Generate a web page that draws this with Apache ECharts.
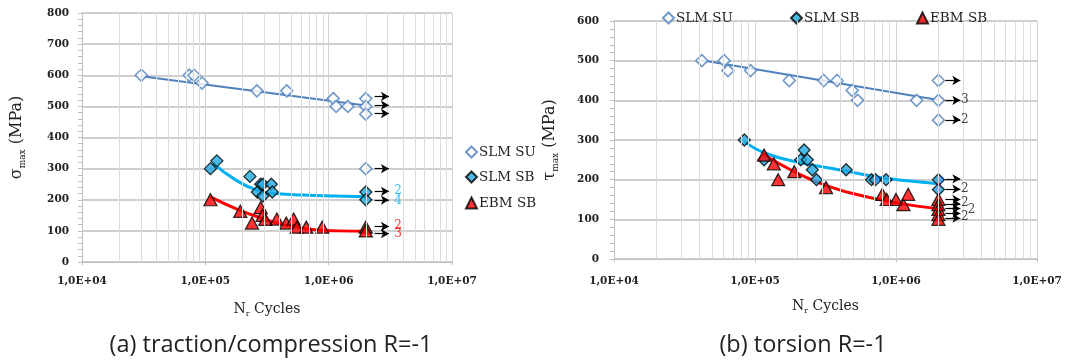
<!DOCTYPE html>
<html>
<head>
<meta charset="utf-8">
<script src="https://cdn.jsdelivr.net/npm/echarts@6/dist/echarts.min.js"></script>
<style>
html,body{margin:0;padding:0;background:#fff;}
#c{width:1068px;height:363px;}
</style>
</head>
<body>
<div id="c"></div>
<script>
// ---------- DATA ----------
// (a) traction/compression R=-1
const tcSuN = [3.03e4, 7.4e4, 8.1e4, 9.4e4, 2.62e5, 4.57e5, 1.09e6, 1.15e6, 1.43e6, 2e6, 2e6, 2e6, 2e6];
const tcSuS = [600, 600, 600, 575, 550, 550, 525, 500, 500, 525, 500, 475, 300];
const tcSuFitN = [3.03e4, 2e6];
const tcSuFitS = [597, 503];

const tcSbN = [1.10e5, 1.24e5, 2.30e5, 2.64e5, 2.81e5, 2.93e5, 2.93e5, 3.43e5, 3.49e5, 2e6, 2e6];
const tcSbS = [300, 325, 275, 225, 250, 250, 212, 250, 225, 225, 200];
const tcSbFitN = [1.15e5, 1.77e5, 2.59e5, 3.33e5, 6.27e5, 1.18e6, 2e6];
const tcSbFitS = [318, 263, 231, 222, 215, 212, 210];

const tcEbmN = [1.10e5, 1.92e5, 2.39e5, 2.81e5, 2.91e5, 3.06e5, 3.80e5, 4.53e5, 5.20e5, 5.52e5, 6.58e5, 8.87e5, 2e6, 2e6];
const tcEbmS = [200, 163, 125, 175, 150, 137, 138, 125, 138, 112, 112, 112, 112, 100];
const tcEbmFitN = [1.1e5, 1.8e5, 3.0e5, 4.5e5, 7.0e5, 1.2e6, 2e6];
const tcEbmFitS = [209, 170, 138, 118, 105, 100, 99];

const tcArrowFrom = 2.36e6, tcArrowTo = 3.08e6;
const tcArrowS = [532, 504, 477, 300, 227, 199, 114, 91];
const tcNoteN = [3.66e6, 3.66e6, 3.66e6, 3.66e6];
const tcNoteS = [230, 197, 115, 91];
const tcNoteText = ['2', '4', '2', '3'];

// (b) torsion R=-1
const toSuN = [4.2e4, 6.04e4, 6.43e4, 9.3e4, 1.75e5, 3.07e5, 3.82e5, 4.89e5, 5.34e5, 1.40e6, 2e6, 2e6, 2e6];
const toSuS = [500, 500, 475, 475, 450, 450, 450, 425, 400, 400, 450, 400, 350];
const toSuFitN = [4.2e4, 2e6];
const toSuFitS = [501, 401];

const toSbN = [8.4e4, 1.16e5, 2.11e5, 2.23e5, 2.35e5, 2.55e5, 2.73e5, 4.43e5, 6.7e5, 7.15e5, 8.5e5, 2e6, 2e6];
const toSbS = [300, 250, 250, 275, 250, 225, 200, 225, 200, 200, 200, 200, 175];
const toSbFitN = [8.4e4, 1.2e5, 2.1e5, 4.4e5, 7.0e5, 1.2e6, 2e6];
const toSbFitS = [296, 266, 243, 222, 208, 197, 190];

const toEbmN = [1.16e5, 1.36e5, 1.46e5, 1.9e5, 3.19e5, 8.0e5, 8.6e5, 1.0e6, 1.13e6, 1.22e6, 2e6, 2e6, 2e6, 2e6, 2e6];
const toEbmS = [262, 240, 200, 220, 180, 163, 150, 150, 137, 163, 150, 137, 125, 112, 100];
const toEbmFitN = [1.17e5, 1.9e5, 3.4e5, 6.5e5, 1.1e6, 2e6];
const toEbmFitS = [262, 220, 182, 155, 139, 127];

const toArrowFrom = 2.24e6, toArrowTo = 2.86e6;
const toArrowS = [450, 400, 351, 202, 176, 150, 139, 127, 115, 103];
const toNoteN = [3.08e6, 3.08e6, 3.08e6, 3.08e6, 3.44e6, 3.08e6];
const toNoteS = [400, 351, 176, 142, 123, 105];
const toNoteText = ['3', '2', '2', '2', '2', '2'];

const captions = ['(a) traction/compression R=-1', '(b) torsion R=-1'];
const seriesNames = ['SLM SU', 'SLM SB', 'EBM SB'];

// ---------- STYLE / BUILD ----------
const SERIF = 'DejaVu Serif';
const C_SU = '#4f81bd', C_SB_FILL = '#1ea9e1', C_SB_LINE = '#00b0f0', C_EBM = '#ff0000';
const pts = (n, s) => n.map((x, i) => [x, s[i]]);

function scatterSU(name, n, s, gi) {
  return {type:'scatter', name, xAxisIndex:gi, yAxisIndex:gi, z:4, symbol:'diamond', symbolSize:12,
    itemStyle:{color:'#ffffff', borderColor:C_SU, borderWidth:1.6}, data:pts(n, s)};
}
function scatterSB(name, n, s, gi) {
  return {type:'scatter', name, xAxisIndex:gi, yAxisIndex:gi, z:4, symbol:'diamond', symbolSize:12,
    itemStyle:{color:C_SB_FILL, borderColor:'#000', borderWidth:1.3}, data:pts(n, s)};
}
function scatterEBM(name, n, s, gi) {
  return {type:'scatter', name, xAxisIndex:gi, yAxisIndex:gi, z:4, symbol:'triangle', symbolSize:[13,12],
    itemStyle:{color:C_EBM, borderColor:'#000', borderWidth:1.3}, data:pts(n, s)};
}
function fit(name, n, s, color, width, gi, smooth) {
  return {type:'line', name, xAxisIndex:gi, yAxisIndex:gi, z:3, showSymbol:false, symbol:'none', smooth:smooth,
    lineStyle:{color, width}, data:pts(n, s)};
}
function minorGrid(gi) {
  const d = [];
  for (let e = 4; e < 7; e++) for (let k = 2; k <= 9; k++) d.push({xAxis: k * Math.pow(10, e)});
  return {type:'line', name:'grid' + gi, xAxisIndex:gi, yAxisIndex:gi, z:1, symbol:'none', data:[],
    markLine:{silent:true, symbol:['none','none'], label:{show:false}, animation:false,
      lineStyle:{color:'#dcdcdc', width:1, type:'solid'}, data:d}};
}
function arrows(gi, from, to, ys) {
  return {type:'line', name:'arrows' + gi, xAxisIndex:gi, yAxisIndex:gi, z:5, symbol:'none', data:[],
    markLine:{silent:true, symbol:['none','arrow'], symbolSize:[7,8], label:{show:false}, animation:false,
      lineStyle:{color:'#000', width:1.2, type:'solid'},
      data: ys.map(y => [{coord:[from, y]}, {coord:[to, y]}])}};
}
function notes(gi, n, s, t, colors) {
  return {type:'scatter', name:'notes' + gi, xAxisIndex:gi, yAxisIndex:gi, z:6, symbolSize:1,
    itemStyle:{color:'rgba(0,0,0,0)'},
    label:{show:true, position:'inside', formatter:'{b}', fontFamily:SERIF, fontSize:12},
    data: n.map((x, i) => ({name:t[i], value:[x, s[i]], label:{color:colors[i]}}))};
}

const labelFmt = v => '1,0E+0' + Math.round(Math.log10(v));
function xAxis(gi, margin) {
  return {type:'log', logBase:10, gridIndex:gi, min:1e4, max:1e7, splitNumber:3,
    axisLine:{show:true, lineStyle:{color:'#bfbfbf'}},
    axisTick:{show:true, length:3, lineStyle:{color:'#bfbfbf'}},
    splitLine:{show:true, lineStyle:{color:'#d4d4d4', width:1}},
    axisLabel:{formatter:labelFmt, fontFamily:SERIF, fontWeight:'bold', fontSize:10.5, color:'#222', margin},
    name:'{m|N}{s|r}{m| Cycles}', nameLocation:'middle', nameGap:38,
    nameTextStyle:{rich:{m:{fontFamily:SERIF, fontSize:14, color:'#222', lineHeight:18},
      s:{fontFamily:SERIF, fontSize:8, color:'#222', verticalAlign:'bottom', lineHeight:18}}}};
}
function yAxis(gi, max, sym, margin, gap) {
  return {type:'value', gridIndex:gi, min:0, max, interval:100,
    axisLine:{show:true, lineStyle:{color:'#bfbfbf'}},
    axisTick:{show:true, length:4, lineStyle:{color:'#bfbfbf'}},
    minorTick:{show:true, splitNumber:5, length:4, lineStyle:{color:'#bfbfbf'}},
    splitLine:{show:true, lineStyle:{color:'#cfcfcf', width:1.8}},
    axisLabel:{fontFamily:SERIF, fontWeight:'bold', fontSize:10.5, color:'#222', margin},
    name:'{m|' + sym + '}{s|max}{m| (MPa)}', nameLocation:'middle', nameRotate:90, nameGap:gap,
    nameTextStyle:{rich:{m:{fontFamily:SERIF, fontSize:16, color:'#222', lineHeight:20},
      s:{fontFamily:SERIF, fontSize:9, color:'#222', verticalAlign:'bottom', lineHeight:20}}}};
}
function legendItem(name, left, top) {
  return {data:[name], left, top, orient:'horizontal', itemWidth:11, itemHeight:11, itemGap:6,
    selectedMode:false, textStyle:{fontFamily:SERIF, fontSize:13.5, color:'#222', padding:[0,0,0,-3]}};
}

const option = {
  animation:false,
  backgroundColor:'#ffffff',
  grid:[
    {left:82, right:1068-452, top:13, bottom:363-262},
    {left:614, right:1068-1037, top:21, bottom:363-259}
  ],
  xAxis:[xAxis(0, 14), xAxis(1, 17)],
  yAxis:[yAxis(0, 800, 'σ', 13, 55), yAxis(1, 600, 'τ', 15, 54)],
  legend:[
    legendItem(seriesNames[0], 460, 140),
    legendItem(seriesNames[1], 460, 165),
    legendItem(seriesNames[2], 460, 191),
    legendItem(seriesNames[0], 657, 6),
    legendItem(seriesNames[1], 785, 6),
    legendItem(seriesNames[2], 911, 6)
  ],
  graphic:[
    {type:'text', x:271, y:345, style:{text:captions[0], fontFamily:'Open Sans', fontSize:23.5, fill:'#222', align:'center', verticalAlign:'middle'}},
    {type:'text', x:803, y:345, style:{text:captions[1], fontFamily:'Open Sans', fontSize:23.5, fill:'#222', align:'center', verticalAlign:'middle'}}
  ],
  series:[
    minorGrid(0), minorGrid(1),
    fit('SU fit a', tcSuFitN, tcSuFitS, C_SU, 2, 0, false),
    fit('SB fit a', tcSbFitN, tcSbFitS, C_SB_LINE, 3, 0, true),
    fit('EBM fit a', tcEbmFitN, tcEbmFitS, C_EBM, 3, 0, true),
    scatterSU(seriesNames[0], tcSuN, tcSuS, 0),
    scatterSB(seriesNames[1], tcSbN, tcSbS, 0),
    scatterEBM(seriesNames[2], tcEbmN, tcEbmS, 0),
    arrows(0, tcArrowFrom, tcArrowTo, tcArrowS),
    notes(0, tcNoteN, tcNoteS, tcNoteText, [C_SB_LINE, C_SB_LINE, C_EBM, C_EBM]),
    fit('SU fit b', toSuFitN, toSuFitS, C_SU, 2, 1, false),
    fit('SB fit b', toSbFitN, toSbFitS, C_SB_LINE, 3, 1, true),
    fit('EBM fit b', toEbmFitN, toEbmFitS, C_EBM, 3, 1, true),
    scatterSU(seriesNames[0], toSuN, toSuS, 1),
    scatterSB(seriesNames[1], toSbN, toSbS, 1),
    scatterEBM(seriesNames[2], toEbmN, toEbmS, 1),
    arrows(1, toArrowFrom, toArrowTo, toArrowS),
    notes(1, toNoteN, toNoteS, toNoteText, ['#111','#111','#111','#111','#111','#111'])
  ]
};
const chart = echarts.init(document.getElementById('c'), null, {renderer:'canvas'});
chart.setOption(option);
</script>
</body>
</html>
